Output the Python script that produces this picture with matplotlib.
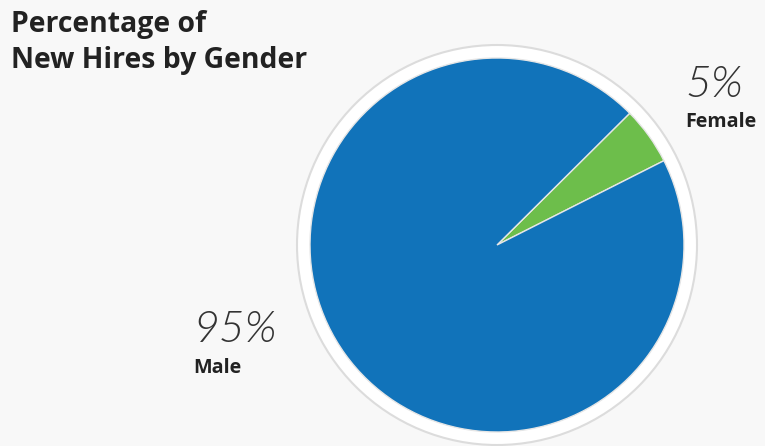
import matplotlib
matplotlib.use('Agg')
import matplotlib.pyplot as plt
from matplotlib.patches import Circle

# data
genders = ['Female', 'Male']
shares = [5, 95]
pct_labels = ['5%', '95%']
colors = ['#6dbe4b', '#1173ba']

W, H = 765, 446
BG = '#f8f8f8'

fig = plt.figure(figsize=(W / 100, H / 100), dpi=100, facecolor=BG)
ax = fig.add_axes([0, 0, 1, 1])
ax.set_facecolor(BG)

cx, cy = 497, H - 245

# outer white ring with thin grey border
ax.add_patch(Circle((cx, cy), 200, facecolor='white', edgecolor='#dcdcdc',
                    linewidth=1.5, zorder=1))

ax.pie(shares, colors=colors, startangle=26.8, counterclock=True,
       center=(cx, cy), radius=187, frame=True,
       wedgeprops=dict(edgecolor='#e6e6e6', linewidth=1, zorder=2))
ax.set_xlim(0, W)
ax.set_ylim(0, H)
ax.set_aspect('equal')
ax.axis('off')

bold_fam = ['Open Sans', 'DejaVu Sans']
thin_fam = ['Lato', 'DejaVu Sans']
ax.text(11, H - 31.7, 'Percentage of', fontsize=20.4, fontweight='bold',
        family=bold_fam, color='#222222', va='baseline', ha='left')
ax.text(11, H - 68.3, 'New Hires by Gender', fontsize=20.4, fontweight='bold',
        family=bold_fam, color='#222222', va='baseline', ha='left')

# slice labels
ax.text(685, H - 97, pct_labels[0], fontsize=32, fontweight=300,
        style='italic', family=thin_fam, color='#333333', va='baseline')
ax.text(685, H - 127.3, genders[0], fontsize=14.2, fontweight='bold',
        family=bold_fam, color='#222222', va='baseline')
ax.text(193, H - 341.7, pct_labels[1], fontsize=32, fontweight=300,
        style='italic', family=thin_fam, color='#333333', va='baseline')
ax.text(193, H - 373.3, genders[1], fontsize=14.2, fontweight='bold',
        family=bold_fam, color='#222222', va='baseline')

fig.savefig('out.png', dpi=100, facecolor=BG)
